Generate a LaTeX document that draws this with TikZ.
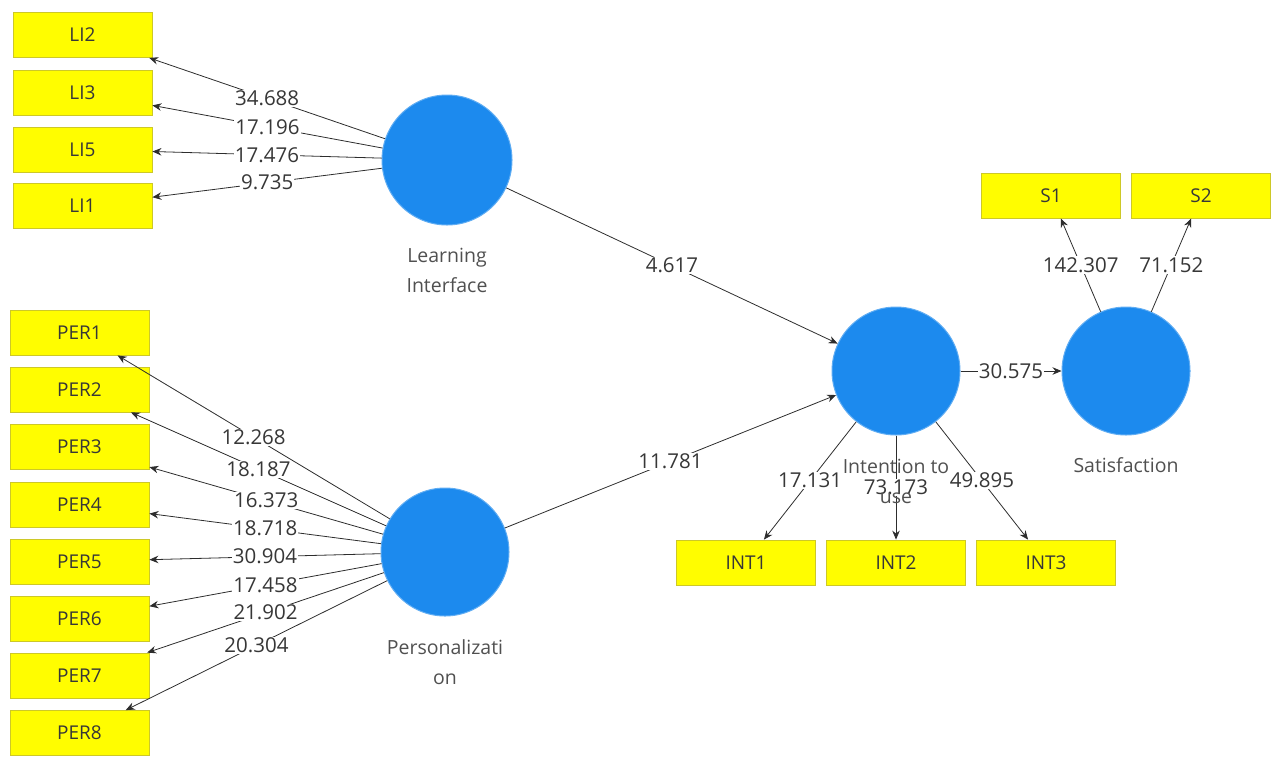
\documentclass[tikz,border=0pt]{standalone}
\usepackage{fontspec}
\setmainfont{Open Sans}
\usetikzlibrary{arrows.meta}
\definecolor{boxfill}{RGB}{255,253,0}
\definecolor{boxedge}{RGB}{205,200,40}
\definecolor{lvblue}{RGB}{28,138,238}
\definecolor{txt}{RGB}{55,55,55}
\definecolor{lvtxt}{RGB}{80,80,80}
\definecolor{edge}{RGB}{45,45,45}
\tikzset{
  ind/.style={rectangle, fill=boxfill, draw=boxedge, line width=0.8pt,
    minimum width=139pt, minimum height=45pt, inner sep=0pt,
    font=\fontsize{19}{22}\selectfont, text=txt},
  lv/.style={circle, fill=lvblue, draw=lvblue!70!white, line width=1pt, inner sep=0pt, minimum size=#1},
  lv/.default=128pt,
  lvlabel/.style={align=center, font=\fontsize{19.5}{30}\selectfont, text=lvtxt},
  con/.style={draw=edge, line width=0.8pt, -{Stealth[length=9pt,width=7.5pt]}},
  wt/.style={fill=white, inner sep=1pt, font=\fontsize{20.5}{22}\selectfont, text=txt, midway}
}
\begin{document}
\begin{tikzpicture}[x=1pt,y=-1pt]
\useasboundingbox (0,0) rectangle (1273,756);
% indicator boxes
\node[ind] (LI2) at (82.5,35) {LI2};
\node[ind] (LI3) at (82.5,92.5) {LI3};
\node[ind] (LI5) at (82.5,149.5) {LI5};
\node[ind] (LI1) at (82.5,206) {LI1};
\node[ind] (PER1) at (79.5,332.5) {PER1};
\node[ind] (PER2) at (79.5,389.5) {PER2};
\node[ind] (PER3) at (79.5,447) {PER3};
\node[ind] (PER4) at (79.5,504.5) {PER4};
\node[ind] (PER5) at (79.5,561.5) {PER5};
\node[ind] (PER6) at (79.5,619) {PER6};
\node[ind] (PER7) at (79.5,675.5) {PER7};
\node[ind] (PER8) at (79.5,733) {PER8};
\node[ind] (S1) at (1051,195.5) {S1};
\node[ind] (S2) at (1201,195.5) {S2};
\node[ind] (INT1) at (746,562.5) {INT1};
\node[ind] (INT2) at (896,562.5) {INT2};
\node[ind] (INT3) at (1046,562.5) {INT3};
% latent variables
\node[lv=130pt] (LI) at (447,160) {};
\node[lv] (PER) at (445,552) {};
\node[lv] (INT) at (896,371) {};
\node[lv] (SAT) at (1126,371) {};
% outer model
\draw[con] (LI) -- node[wt]{34.688} (LI2);
\draw[con] (LI) -- node[wt]{17.196} (LI3);
\draw[con] (LI) -- node[wt]{17.476} (LI5);
\draw[con] (LI) -- node[wt]{9.735} (LI1);
\draw[con] (PER) -- node[wt]{12.268} (PER1);
\draw[con] (PER) -- node[wt]{18.187} (PER2);
\draw[con] (PER) -- node[wt]{16.373} (PER3);
\draw[con] (PER) -- node[wt]{18.718} (PER4);
\draw[con] (PER) -- node[wt]{30.904} (PER5);
\draw[con] (PER) -- node[wt]{17.458} (PER6);
\draw[con] (PER) -- node[wt]{21.902} (PER7);
\draw[con] (PER) -- node[wt]{20.304} (PER8);
\draw[con] (SAT) -- node[wt]{142.307} (S1);
\draw[con] (SAT) -- node[wt]{71.152} (S2);
\draw[con] (INT) -- node[wt]{17.131} (INT1);
\draw[con] (INT) -- node[wt]{73.173} (INT2);
\draw[con] (INT) -- node[wt]{49.895} (INT3);
% inner model
\draw[con] (LI) -- node[wt]{4.617} (INT);
\draw[con] (PER) -- node[wt]{11.781} (INT);
\draw[con] (INT) -- node[wt]{30.575} (SAT);
% construct labels
\node[lvlabel] (LIl) at (447,270) {Learning\\Interface};
\node[lvlabel] (PERl) at (445,662.5) {Personalizati\\on};
\node[lvlabel] (INTl) at (896,481.5) {Intention to\\use};
\node[lvlabel] (SATl) at (1126,465) {Satisfaction};
\end{tikzpicture}
\end{document}
